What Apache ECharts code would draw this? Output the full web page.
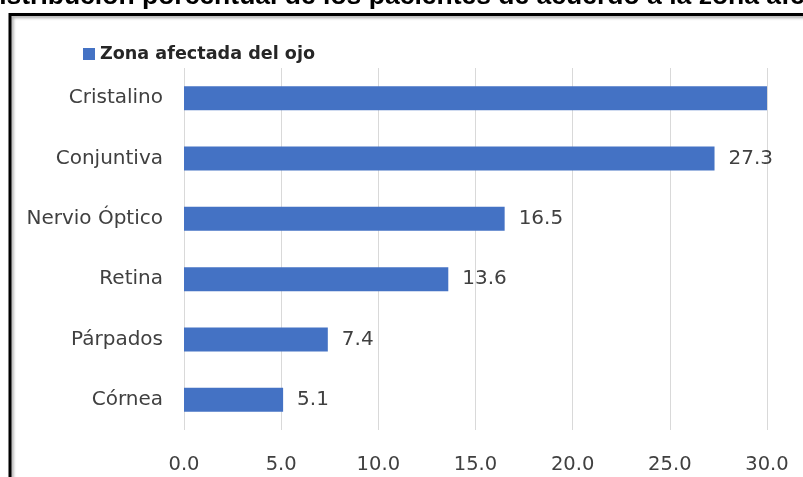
<!DOCTYPE html>
<html>
<head>
<meta charset="utf-8">
<script src="https://cdn.jsdelivr.net/npm/echarts@6/dist/echarts.min.js"></script>
<style>html,body{margin:0;padding:0;background:#fff}#c{width:803px;height:477px}</style>
</head>
<body>
<div id="c"></div>
<script>
const titleText = 'Distribución porcentual de los pacientes de acuerdo a la zona afectada del ojo';
const seriesName = 'Zona afectada del ojo';
const categories = ['Córnea', 'Párpados', 'Retina', 'Nervio Óptico', 'Conjuntiva', 'Cristalino'];
const values = [5.1, 7.4, 13.6, 16.5, 27.3, 30.1];
const hiddenLabel = ['Cristalino'];
const axisMin = 0, axisMax = 30, axisStep = 5;

const chart = echarts.init(document.getElementById('c'));
const font = 'DejaVu Sans, sans-serif';
chart.setOption({
  animation: false,
  graphic: [
    { type: 'rect', shape: { x: 10, y: 14.5, width: 900, height: 600 }, style: { fill: 'none', stroke: '#000', lineWidth: 3, shadowColor: 'rgba(0,0,0,0.35)', shadowBlur: 3, shadowOffsetX: 2, shadowOffsetY: 2 }, z: 10 },
    { type: 'text', x: -20, y: -17, style: { text: titleText, font: 'bold 26.5px Liberation Sans, Arial, sans-serif', fill: '#000', verticalAlign: 'top' } }
  ],
  legend: {
    left: 78, top: 40, icon: 'rect', itemWidth: 12, itemHeight: 12, itemGap: 6,
    textStyle: { fontFamily: font, fontWeight: 'bold', fontSize: 17.6, color: '#262626' },
    data: [seriesName]
  },
  grid: { left: 184, right: 36, top: 68, bottom: 47, containLabel: false },
  xAxis: {
    type: 'value', min: axisMin, max: axisMax, interval: axisStep,
    axisLine: { show: false }, axisTick: { show: false },
    splitLine: { show: true, lineStyle: { color: '#d9d9d9', width: 1 } },
    axisLabel: { fontFamily: font, fontSize: 19.5, color: '#404040', margin: 25, formatter: v => v.toFixed(1) }
  },
  yAxis: {
    type: 'category', data: categories,
    axisLine: { show: false }, axisTick: { show: false },
    axisLabel: { fontFamily: font, fontSize: 20, color: '#404040', margin: 21 }
  },
  series: [{
    name: seriesName, type: 'bar', barWidth: 24,
    itemStyle: { color: '#4472c4' },
    label: { show: true, position: 'right', distance: 14, fontFamily: font, fontSize: 20, color: '#404040', formatter: p => p.value.toFixed(1) },
    data: values.map((v, i) => hiddenLabel.includes(categories[i]) ? { value: v, label: { show: false } } : v)
  }]
});
</script>
</body>
</html>
